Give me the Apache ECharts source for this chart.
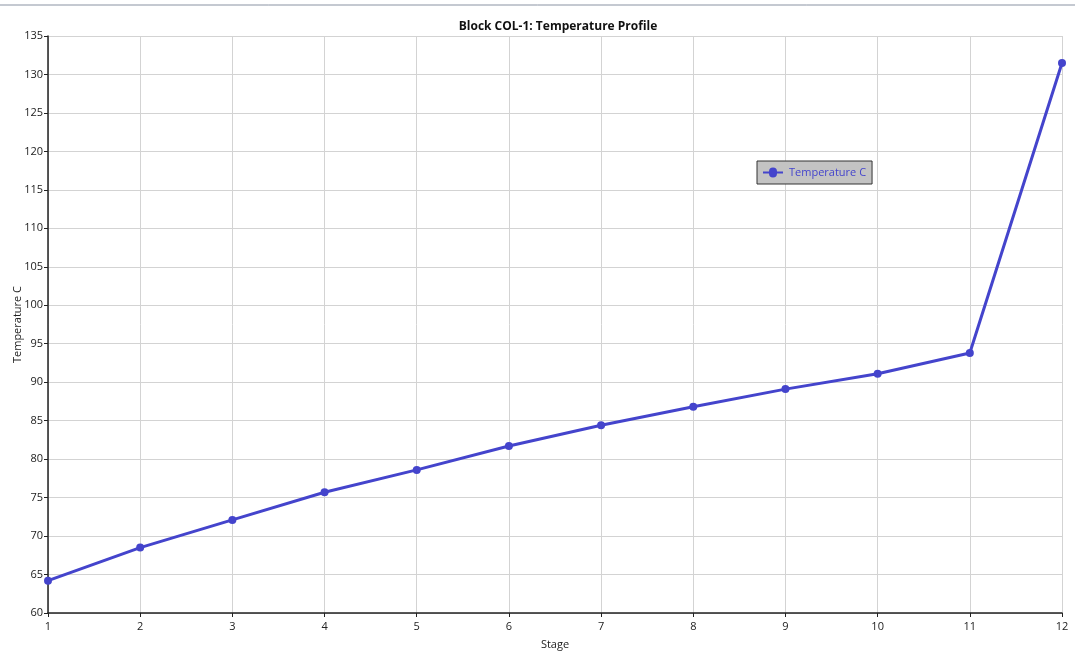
<!DOCTYPE html>
<html>
<head>
<meta charset="utf-8">
<script src="https://cdn.jsdelivr.net/npm/echarts@6/dist/echarts.min.js"></script>
<style>html,body{margin:0;padding:0;background:#fff;}#c{width:1075px;height:653px;}</style>
</head>
<body>
<div id="c"></div>
<script>
var stages = [1, 2, 3, 4, 5, 6, 7, 8, 9, 10, 11, 12];
var temperatureC = [64.2, 68.5, 72.1, 75.7, 78.6, 81.7, 84.4, 86.8, 89.1, 91.1, 93.8, 131.5];
var seriesName = 'Temperature C';

var chart = echarts.init(document.getElementById('c'));
var font = '"Open Sans", "Noto Sans", sans-serif';
chart.setOption({
  animation: false,
  backgroundColor: '#fff',
  title: {
    text: 'Block COL-1: Temperature Profile',
    left: 553, top: 16, textAlign: 'center',
    textStyle: { fontSize: 12, fontWeight: 'bold', color: '#111', fontFamily: font }
  },
  graphic: [{
    type: 'line', shape: { x1: 0, y1: 5, x2: 1075, y2: 5 },
    style: { stroke: '#8a93a3', lineWidth: 1 }
  }],
  legend: {
    data: [{ name: seriesName, icon: 'path://M0,4 L6,4 A4,4 0 1 1 14,4 L20,4 L20,6 L14,6 A4,4 0 1 1 6,6 L0,6 Z' }],
    left: 757, top: 161,
    itemWidth: 22, itemHeight: 10,
    backgroundColor: '#c3c3c3', borderColor: '#333', borderWidth: 1, borderRadius: 0,
    padding: [6, 6, 6, 6],
    textStyle: { color: '#4444cc', fontSize: 11, fontFamily: font }
  },
  grid: { left: 48, right: 13, top: 36, bottom: 40, containLabel: false, outerBoundsMode: 'none' },
  xAxis: {
    type: 'value', min: 1, max: 12, interval: 1,
    name: 'Stage', nameLocation: 'middle', nameGap: 26, nameMoveOverlap: false,
    nameTextStyle: { fontSize: 11, color: '#222', fontFamily: font },
    axisLine: { show: true, lineStyle: { color: '#222', width: 1.5 } },
    axisTick: { show: true, length: 4, inside: false, lineStyle: { color: '#222' } },
    axisLabel: { fontSize: 11, color: '#222', margin: 8, fontFamily: font },
    splitLine: { show: true, lineStyle: { color: '#d3d3d3', width: 1 } }
  },
  yAxis: {
    type: 'value', min: 60, max: 135, interval: 5,
    name: 'Temperature C', nameLocation: 'middle', nameGap: 25, nameRotate: 90, nameMoveOverlap: false,
    nameTextStyle: { fontSize: 11, color: '#222', fontFamily: font },
    axisLine: { show: true, lineStyle: { color: '#222', width: 1.5 } },
    axisTick: { show: true, length: 4, inside: false, lineStyle: { color: '#222' } },
    axisLabel: { fontSize: 11, color: '#222', margin: 5, fontFamily: font },
    splitLine: { show: true, lineStyle: { color: '#d3d3d3', width: 1 } }
  },
  series: [{
    name: seriesName, type: 'line',
    data: stages.map(function (s, i) { return [s, temperatureC[i]]; }),
    symbol: 'circle', symbolSize: 8,
    lineStyle: { color: '#4444cc', width: 3 },
    itemStyle: { color: '#4444cc' },
    clip: false
  }]
});
</script>
</body>
</html>
